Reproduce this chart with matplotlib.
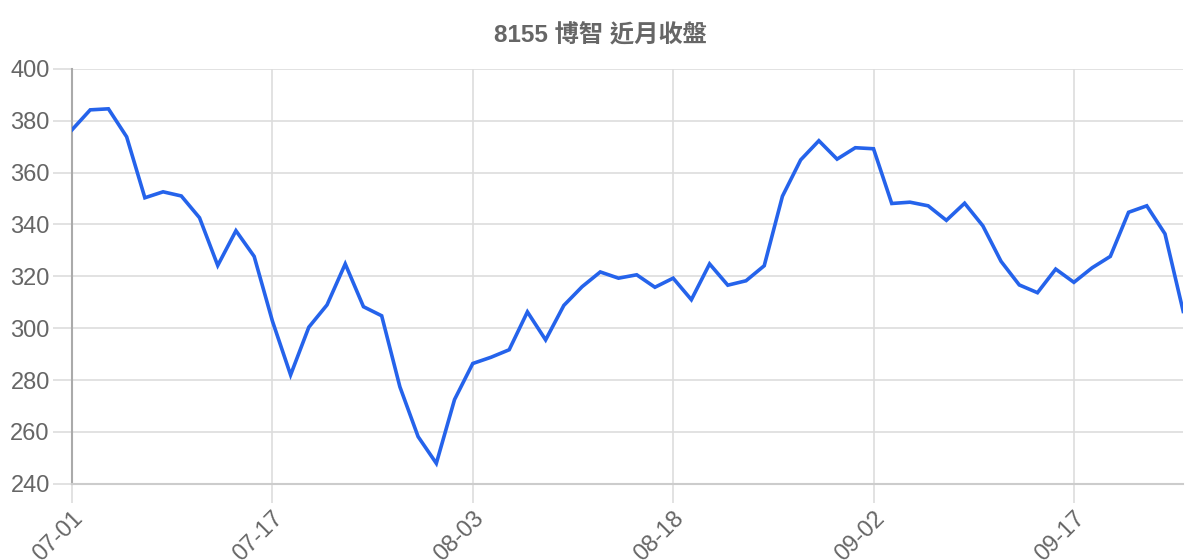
#!/usr/bin/env python
# coding=utf-8

import matplotlib
matplotlib.use('Agg')
import matplotlib.pyplot as plt

plt.rcParams['font.family'] = ['Liberation Sans', 'Noto Sans CJK TC', 'DejaVu Sans']

title = '8155 博智 近月收盤'

# closing prices, one per trading day
close = [376.5, 384.2, 384.6, 373.8, 350.3, 352.6, 351.0, 342.6, 324.2, 337.6,
         327.7, 302.8, 282.0, 300.4, 309.0, 324.8, 308.3, 304.8, 277.4, 258.2,
         247.9, 272.5, 286.4, 288.8, 291.7, 306.3, 295.5, 308.8, 316.0, 321.7,
         319.3, 320.6, 315.8, 319.3, 311.0, 324.8, 316.6, 318.3, 324.1, 350.9,
         364.9, 372.3, 365.2, 369.6, 369.2, 348.1, 348.6, 347.2, 341.6, 348.2,
         339.5, 325.8, 316.7, 313.7, 322.8, 317.7, 323.3, 327.7, 344.7, 347.2,
         336.4, 306.5]

tick_labels = ['07-01', '07-17', '08-03', '08-18', '09-02', '09-17']
tick_step = 11

y_ticks = [240, 260, 280, 300, 320, 340, 360, 380, 400]

fig = plt.figure(figsize=(12, 5.6), dpi=100)
ax = fig.add_axes([0.06, 0.136, 0.926, 0.741])

x = list(range(len(close)))
ax.plot(x, close, color='#2563eb', linewidth=2.6, solid_joinstyle='miter', zorder=3)

ax.set_xlim(0, len(close) - 1)
ax.set_ylim(240, 400)
ax.set_yticks(y_ticks)
ax.set_xticks([i * tick_step for i in range(len(tick_labels))])
ax.set_xticklabels(tick_labels, rotation=45, ha='right', va='top',
                   rotation_mode='anchor')

ax.grid(True, color='#dddddd', linewidth=1.2, zorder=0)
ax.tick_params(axis='both', colors='#dddddd', length=14, width=1.2,
               labelcolor='#666666', labelsize=17)
ax.tick_params(axis='y', pad=2)
ax.tick_params(axis='x', pad=3)

for side in ['top', 'right']:
    ax.spines[side].set_visible(False)
ax.spines['left'].set_color('#aaaaaa')
ax.spines['left'].set_linewidth(1.5)
ax.spines['bottom'].set_color('#cccccc')
ax.spines['bottom'].set_linewidth(1.5)

fig.text(0.5, 0.936, title, ha='center', va='center', fontsize=17.5,
         fontweight='bold', color='#666666',
         family=['Liberation Sans', 'Noto Sans CJK TC'])

fig.savefig('out.png', dpi=100)
